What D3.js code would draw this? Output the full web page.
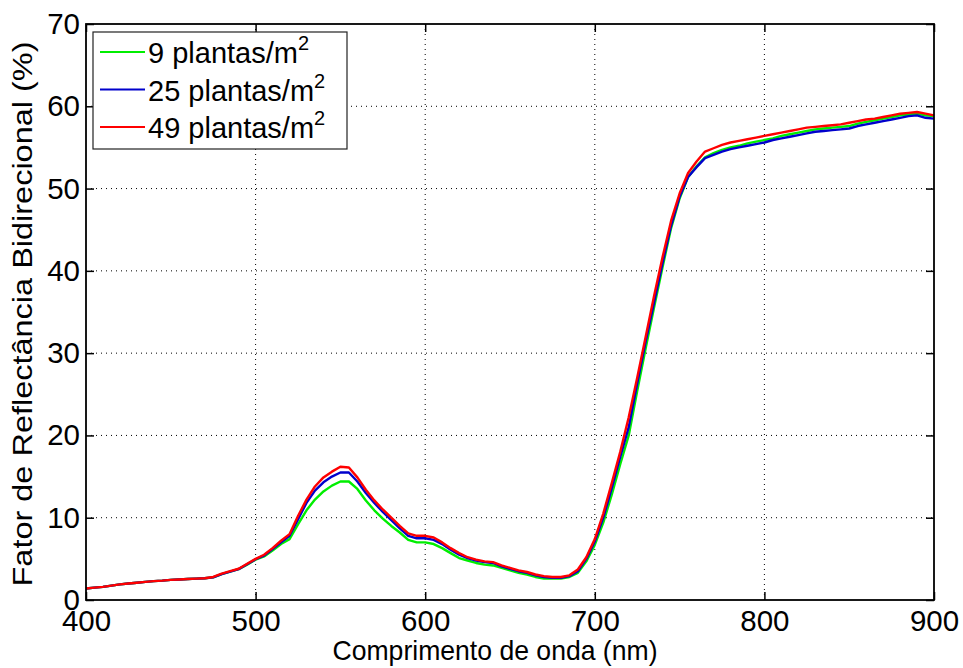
<!DOCTYPE html>
<html lang="pt">
<head>
<meta charset="UTF-8">
<title>Fator de Reflectância Bidirecional</title>
<script src="https://d3js.org/d3.v7.min.js"></script>
<style>
  body { margin: 0; background: #fff; }
  svg { font-family: "Liberation Sans", Arial, sans-serif; }
  .grid line { stroke: #000; stroke-width: 1; stroke-dasharray: 1,4; }
  .axis text { font-size: 29.5px; fill: #000; }
  .axis line { stroke: #000; stroke-width: 1.5; }
  .label { font-size: 28px; fill: #000; }
  .serie { fill: none; stroke-width: 2.4; stroke-linejoin: round; }
</style>
</head>
<body>
<svg width="963" height="668"></svg>
<script>
// comprimentos de onda (nm), passo de 5 nm
const wavelengths = d3.range(400, 905, 5);

const plantas9 = [
  1.4, 1.5, 1.6, 1.75, 1.9, 2.0, 2.1, 2.2, 2.3, 2.35,
  2.45, 2.5, 2.55, 2.6, 2.65, 2.75, 3.15, 3.45, 3.75, 4.3,
  4.9, 5.3, 6.0, 6.8, 7.4, 9.2, 10.9, 12.2, 13.2, 13.9,
  14.4, 14.4, 13.5, 12.1, 10.9, 9.9, 9.0, 8.2, 7.3, 7.0,
  7.0, 6.8, 6.3, 5.7, 5.1, 4.8, 4.5, 4.3, 4.2, 3.9,
  3.6, 3.3, 3.1, 2.8, 2.6, 2.6, 2.6, 2.8, 3.3, 4.7,
  6.7, 9.4, 12.8, 16.5, 20.0, 25.4, 30.6, 35.6, 40.5, 45.2,
  48.8, 51.4, 52.7, 53.8, 54.3, 54.7, 55.0, 55.2, 55.5, 55.7,
  55.9, 56.1, 56.4, 56.6, 56.8, 57.0, 57.2, 57.3, 57.4, 57.5,
  57.6, 57.9, 58.1, 58.3, 58.5, 58.7, 58.9, 59.0, 59.1, 58.9,
  58.8
];

const plantas25 = [
  1.4, 1.5, 1.6, 1.75, 1.9, 2.0, 2.1, 2.2, 2.3, 2.35,
  2.45, 2.5, 2.55, 2.6, 2.65, 2.75, 3.15, 3.45, 3.75, 4.35,
  4.95, 5.4, 6.2, 7.0, 7.8, 9.8, 11.8, 13.3, 14.3, 15.0,
  15.5, 15.5, 14.4, 13.0, 11.8, 10.7, 9.7, 8.7, 7.8, 7.5,
  7.5, 7.3, 6.8, 6.1, 5.5, 5.1, 4.8, 4.6, 4.5, 4.1,
  3.8, 3.5, 3.3, 3.0, 2.8, 2.7, 2.7, 2.9, 3.5, 5.0,
  7.1, 10.0, 13.6, 17.4, 21.0, 26.3, 31.4, 36.2, 41.0, 45.5,
  49.0, 51.4, 52.6, 53.7, 54.1, 54.5, 54.8, 55.0, 55.2, 55.4,
  55.6, 55.9, 56.1, 56.3, 56.5, 56.7, 56.9, 57.0, 57.1, 57.2,
  57.3, 57.6, 57.8, 58.0, 58.2, 58.4, 58.6, 58.8, 58.9, 58.6,
  58.5
];

const plantas49 = [
  1.4, 1.5, 1.6, 1.75, 1.9, 2.0, 2.1, 2.2, 2.3, 2.35,
  2.45, 2.5, 2.55, 2.6, 2.65, 2.8, 3.2, 3.5, 3.8, 4.4,
  5.0, 5.5, 6.3, 7.2, 8.0, 10.2, 12.2, 13.8, 14.9, 15.6,
  16.2, 16.1, 14.9, 13.4, 12.1, 11.0, 10.0, 9.0, 8.1, 7.8,
  7.8, 7.6, 7.0, 6.3, 5.7, 5.2, 4.9, 4.7, 4.6, 4.2,
  3.9, 3.6, 3.4, 3.1, 2.9, 2.8, 2.8, 3.0, 3.7, 5.2,
  7.4, 10.5, 14.2, 18.0, 22.2, 27.0, 32.0, 37.0, 41.7, 46.1,
  49.4, 51.9, 53.3, 54.5, 54.9, 55.3, 55.6, 55.8, 56.0, 56.2,
  56.4, 56.6, 56.8, 57.0, 57.2, 57.4, 57.5, 57.6, 57.7, 57.8,
  58.0, 58.2, 58.4, 58.5, 58.7, 58.9, 59.1, 59.2, 59.3, 59.1,
  58.9
];

const seriesNames = ["9 plantas/m", "25 plantas/m", "49 plantas/m"];
const seriesColors = ["#00ee00", "#0000cc", "#ff0000"];
const xTicks = [400, 500, 600, 700, 800, 900];
const yTicks = [0, 10, 20, 30, 40, 50, 60, 70];

const svg = d3.select("svg");
const x = d3.scaleLinear().domain([400, 900]).range([86, 934]);
const y = d3.scaleLinear().domain([0, 70]).range([600, 24]);

// grade pontilhada
const grid = svg.append("g").attr("class", "grid");
grid.selectAll(".gx").data(xTicks.slice(1, -1)).join("line")
  .attr("x1", d => x(d)).attr("x2", d => x(d))
  .attr("y1", y(0)).attr("y2", y(70));
grid.selectAll(".gy").data(yTicks.slice(1, -1)).join("line")
  .attr("x1", x(400)).attr("x2", x(900))
  .attr("y1", d => y(d)).attr("y2", d => y(d));

// curvas
const line = d3.line().x((d, i) => x(wavelengths[i])).y(d => y(d));
[plantas9, plantas25, plantas49].forEach((vals, i) => {
  svg.append("path").datum(vals)
    .attr("class", "serie")
    .attr("stroke", seriesColors[i])
    .attr("d", line);
});

// eixos com marcas para dentro
svg.append("g").attr("class", "axis")
  .attr("transform", `translate(0,${y(0)})`)
  .call(d3.axisBottom(x).tickValues(xTicks).tickSizeInner(-8).tickSizeOuter(0).tickPadding(10))
  .call(g => g.select(".domain").remove());
svg.append("g").attr("class", "axis")
  .attr("transform", `translate(${x(400)},0)`)
  .call(d3.axisLeft(y).tickValues(yTicks).tickSizeInner(-8).tickSizeOuter(0).tickPadding(6))
  .call(g => g.select(".domain").remove());
svg.append("g").attr("class", "axis")
  .attr("transform", `translate(0,${y(70)})`)
  .call(d3.axisTop(x).tickValues(xTicks).tickSizeInner(-8).tickSizeOuter(0).tickFormat(""))
  .call(g => g.select(".domain").remove());
svg.append("g").attr("class", "axis")
  .attr("transform", `translate(${x(900)},0)`)
  .call(d3.axisRight(y).tickValues(yTicks).tickSizeInner(-8).tickSizeOuter(0).tickFormat(""))
  .call(g => g.select(".domain").remove());

svg.append("rect")
  .attr("x", x(400)).attr("y", y(70))
  .attr("width", x(900) - x(400)).attr("height", y(0) - y(70))
  .attr("fill", "none").attr("stroke", "#000").attr("stroke-width", 1.8);

// rótulos
svg.append("text").attr("class", "label")
  .attr("x", 495).attr("y", 660)
  .attr("text-anchor", "middle")
  .attr("textLength", 325).attr("lengthAdjust", "spacingAndGlyphs")
  .text("Comprimento de onda (nm)");
svg.append("text").attr("class", "label")
  .attr("transform", `translate(32,${(y(0) + y(70)) / 2 + 2}) rotate(-90)`)
  .attr("text-anchor", "middle")
  .attr("textLength", 545).attr("lengthAdjust", "spacingAndGlyphs")
  .text("Fator de Reflectância Bidirecional (%)");

// legenda
const legend = svg.append("g").attr("transform", "translate(93,32)");
legend.append("rect").attr("width", 254).attr("height", 117)
  .attr("fill", "#fff").attr("stroke", "#222").attr("stroke-width", 1.2);
seriesNames.forEach((name, i) => {
  const row = legend.append("g").attr("transform", `translate(0,${20 + i * 37.5})`);
  row.append("line").attr("x1", 7).attr("x2", 52)
    .attr("stroke", seriesColors[i]).attr("stroke-width", 2);
  const t = row.append("text").attr("x", 55).attr("y", 11)
    .attr("font-size", 29).attr("fill", "#000");
  t.append("tspan").text(name);
  t.append("tspan").attr("dy", -13).attr("font-size", 20).text("2");
});
</script>
</body>
</html>
